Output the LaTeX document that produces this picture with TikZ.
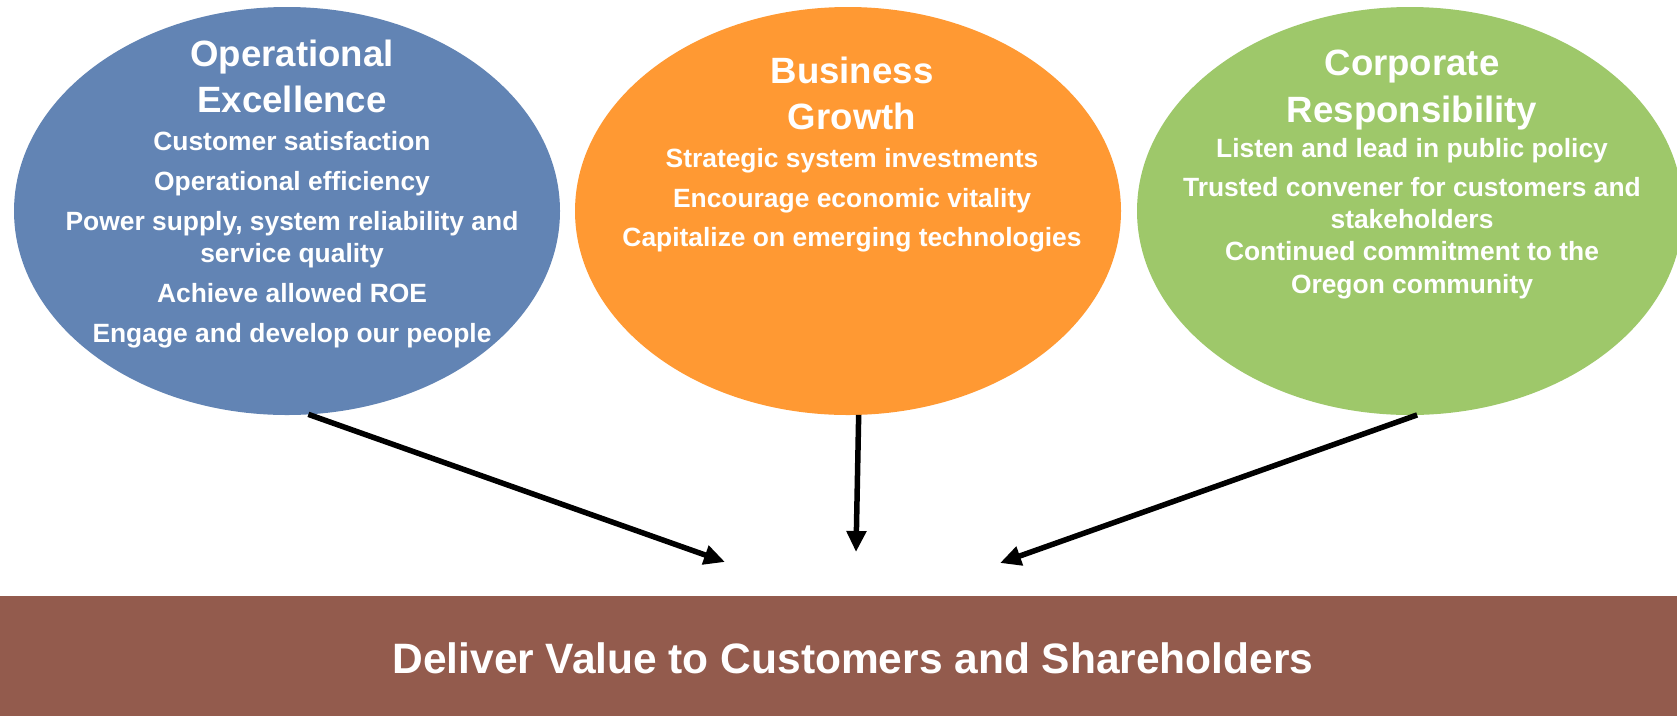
\documentclass[tikz,border=0pt]{standalone}
\usepackage{fontspec}
\setmainfont{Liberation Sans}
\usetikzlibrary{shapes.geometric,arrows.meta}
\definecolor{oeblue}{RGB}{98,132,180}
\definecolor{bgorange}{RGB}{255,153,51}
\definecolor{crgreen}{RGB}{158,200,106}
\definecolor{barbrown}{RGB}{147,91,77}
\begin{document}
\begin{tikzpicture}[x=1pt,y=-1pt,
  goal/.style={ellipse, minimum width=546pt, minimum height=408pt, inner sep=0pt, outer sep=0pt, draw=none},
  ttl/.style={text=white, anchor=base, inner sep=0pt, font=\fontsize{36.6}{44}\selectfont\bfseries},
  bdy/.style={text=white, anchor=base, inner sep=0pt, font=\fontsize{26.4}{32}\selectfont\bfseries},
  flow/.style={line width=5.5pt, -{Triangle[length=21pt,width=19pt]}}]
\useasboundingbox (0,0) rectangle (1677,716);
\fill[white] (0,0) rectangle (1677,716);

% ellipses
\node[goal, fill=oeblue]   (oe) at (287,211) {};
\node[goal, fill=bgorange] (bg) at (848,211) {};
\node[goal, fill=crgreen]  (cr) at (1410,211) {};

% bottom bar
\node[fill=barbrown, minimum width=1677pt, minimum height=120pt, inner sep=0pt, outer sep=0pt, anchor=north west] (bar) at (0,596) {};
\node[text=white, inner sep=0pt, anchor=base, font=\fontsize{42.5}{50}\selectfont\bfseries] (bartext) at (853,673) {Deliver Value to Customers and Shareholders};

% blue text
\node[ttl] (oe1) at (292,66)  {Operational};
\node[ttl] (oe2) at (292,112) {Excellence};
\node[bdy] (oe3) at (292,150) {Customer satisfaction};
\node[bdy] (oe4) at (292,190) {Operational efficiency};
\node[bdy] (oe5) at (292,230) {Power supply, system reliability and};
\node[bdy] (oe6) at (292,262) {service quality};
\node[bdy] (oe7) at (292,302) {Achieve allowed ROE};
\node[bdy] (oe8) at (292,342) {Engage and develop our people};

% orange text
\node[ttl] (bg1) at (852,83)  {Business};
\node[ttl] (bg2) at (852,129) {Growth};
\node[bdy] (bg3) at (852,167) {Strategic system investments};
\node[bdy] (bg4) at (852,207) {Encourage economic vitality};
\node[bdy] (bg5) at (852,246) {Capitalize on emerging technologies};

% green text
\node[ttl] (cr1) at (1412,75)  {Corporate};
\node[ttl] (cr2) at (1412,122) {Responsibility};
\node[bdy] (cr3) at (1412,157) {Listen and lead in public policy};
\node[bdy] (cr4) at (1412,196) {Trusted convener for customers and};
\node[bdy] (cr5) at (1412,228) {stakeholders};
\node[bdy] (cr6) at (1412,260) {Continued commitment to the};
\node[bdy] (cr7) at (1412,293) {Oregon community};

% arrow targets
\coordinate (toe) at (725,562);
\coordinate (tbg) at (856,552);
\coordinate (tcr) at (1000,563);

\draw[flow] (oe.-84) -- (toe);
\draw[flow] (bg.-87) -- (tbg);
\draw[flow] (cr.-88) -- (tcr);
\end{tikzpicture}
\end{document}
